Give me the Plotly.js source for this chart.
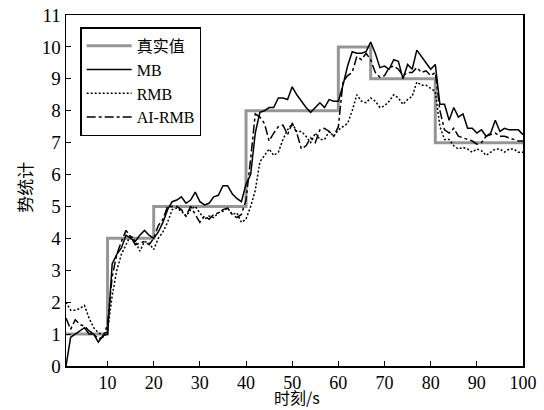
<!DOCTYPE html>
<html>
<head>
<meta charset="utf-8">
<script src="https://cdn.plot.ly/plotly-3.0.1.min.js"></script>
<style>html,body{margin:0;padding:0;background:#fff;}#chart{width:544px;height:410px;}</style>
</head>
<body>
<div id="chart"></div>
<script>
const t = Array.from({length: 100}, (_, i) => i + 1);

const trueX = [1, 10, 20, 40, 60, 67, 81, 100];
const trueY = [1, 4, 5, 8, 10, 9, 7, 7];

const mb = [0, 0.9, 1.0, 1.1, 1.2, 1.0, 1.0, 0.75, 0.95, 1.0,
  3.2, 3.5, 3.7, 4.1, 4.0, 3.9, 4.1, 4.25, 4.1, 4.0,
  4.2, 4.5, 4.9, 5.15, 5.2, 5.3, 5.1, 5.2, 5.45, 5.15,
  5.05, 5.1, 5.3, 5.35, 5.65, 5.65, 5.4, 5.25, 5.15, 5.7,
  6.0, 7.3, 7.95, 8.0, 8.1, 8.1, 8.4, 8.4, 8.35, 8.75,
  8.5, 8.3, 8.1, 7.95, 8.1, 8.25, 8.1, 8.35, 8.3, 8.3,
  8.8, 9.4, 9.85, 9.8, 9.8, 9.85, 10.15, 9.8, 9.35, 9.4,
  9.3, 9.6, 9.55, 9.0, 9.45, 9.3, 9.9, 9.7, 9.5, 9.3,
  9.45, 8.2, 8.2, 7.7, 8.1, 7.8, 7.9, 7.45, 7.45, 7.3,
  7.4, 7.2, 7.3, 7.7, 7.35, 7.45, 7.4, 7.4, 7.4, 7.25];

const rmb = [2.0, 1.75, 1.75, 1.8, 1.9, 1.5, 1.2, 1.05, 0.95, 1.1,
  2.2, 3.0, 3.5, 3.8, 4.1, 3.9, 3.6, 3.9, 3.85, 3.65,
  4.0, 4.2, 4.5, 4.9, 4.95, 4.85, 4.7, 4.9, 5.0, 4.8,
  4.6, 4.7, 4.65, 4.8, 4.85, 4.95, 4.75, 4.8, 4.5, 4.6,
  5.0, 5.5, 6.4, 6.6, 6.8, 6.6, 6.7, 7.1, 7.4, 7.6,
  7.35, 7.35, 7.2, 7.0, 7.3, 7.1, 7.1, 7.35, 7.2, 7.4,
  7.5, 7.6, 8.0, 8.5, 8.3, 8.25, 8.4, 8.3, 8.1, 8.15,
  8.3, 8.5, 8.4, 8.2, 8.35, 8.45, 8.9, 8.8, 8.8, 8.7,
  8.6, 7.5, 7.1, 7.1, 6.9, 6.8, 6.85, 6.8, 6.7, 6.8,
  6.75, 6.6, 6.7, 6.8, 6.8, 6.7, 6.8, 6.8, 6.7, 6.7];

const airmb = [1.5, 1.15, 1.45, 1.3, 1.25, 1.1, 1.0, 0.85, 0.9, 1.3,
  2.8, 3.5, 3.9, 4.25, 4.05, 3.8, 3.85, 3.9, 3.8, 4.0,
  4.4, 4.6, 5.0, 5.0, 5.0, 4.9, 4.7, 5.0, 4.75, 4.5,
  4.7, 4.6, 4.75, 4.8, 4.9, 4.95, 4.75, 4.65, 4.75, 5.2,
  6.5, 7.9, 7.8, 7.6, 7.05, 7.3, 7.5, 7.55, 7.25, 7.6,
  7.3, 6.8, 6.9, 7.15, 7.0, 7.4, 7.45, 7.35, 7.2, 7.5,
  8.9, 9.1, 9.2, 9.7, 9.6, 9.8, 9.6, 9.2, 9.05, 9.1,
  9.35, 9.4, 9.3, 9.1, 9.2, 9.2, 9.35, 9.2, 9.25, 9.1,
  9.2, 8.0, 7.4, 7.3, 7.45, 7.2, 7.15, 7.1, 7.05, 6.95,
  7.0, 7.2, 7.25, 7.3, 7.2, 7.2, 7.15, 7.1, 7.05, 7.05];

const names = ['真实值', 'MB', 'RMB', 'AI-RMB'];
const xTicks = [10, 20, 30, 40, 50, 60, 70, 80, 90, 100];
const yTicks = [0, 1, 2, 3, 4, 5, 6, 7, 8, 9, 10, 11];
const xTitle = '时刻/s';
const yTitle = '势统计';

const serif = 'Liberation Serif, Times New Roman, Noto Sans CJK SC, serif';
const cjk = 'Noto Sans CJK SC, sans-serif';

const traces = [
  {x: trueX, y: trueY, name: names[0], mode: 'lines', line: {shape: 'hv', color: 'rgb(150,150,150)', width: 3}},
  {x: t, y: mb, name: names[1], mode: 'lines', line: {color: '#000', width: 1.5}},
  {x: t, y: rmb, name: names[2], mode: 'lines', line: {color: '#000', width: 1.5, dash: '2px,2px'}},
  {x: t, y: airmb, name: names[3], mode: 'lines', line: {color: '#000', width: 1.5, dash: 'dashdot'}}
];

const layout = {
  width: 544, height: 410,
  margin: {l: 66, r: 21, t: 15, b: 44},
  paper_bgcolor: '#fff', plot_bgcolor: '#fff',
  font: {family: serif, color: '#000', size: 18},
  showlegend: true,
  legend: {
    x: 0.031, y: 0.965, xanchor: 'left', yanchor: 'top',
    bgcolor: '#fff', bordercolor: '#000', borderwidth: 1.5,
    font: {family: serif, size: 16, color: '#000'},
    itemwidth: 45, tracegroupgap: 0
  },
  xaxis: {
    range: [1, 100], tickvals: xTicks, ticktext: xTicks.map(String),
    ticks: 'inside', ticklen: 5, tickcolor: '#000', tickwidth: 1,
    showline: true, linecolor: '#000', linewidth: 1.5, mirror: true,
    showgrid: false, zeroline: false,
    tickfont: {family: serif, size: 18, color: '#000'},
    automargin: false
  },
  yaxis: {
    range: [0, 11], tickvals: yTicks, ticktext: yTicks.map(String),
    ticks: 'inside', ticklen: 5, tickcolor: '#000', tickwidth: 1,
    showline: true, linecolor: '#000', linewidth: 1.5, mirror: true,
    showgrid: false, zeroline: false,
    tickfont: {family: serif, size: 19, color: '#000'},
    automargin: false
  },
  annotations: [
    {text: xTitle, xref: 'paper', yref: 'paper', x: 0.505, y: -0.125, xanchor: 'center', yanchor: 'bottom',
     showarrow: false, borderpad: 0, font: {family: cjk, size: 16, color: '#000'}},
    {text: yTitle, xref: 'paper', yref: 'paper', x: -0.09, y: 0.51, xanchor: 'center', yanchor: 'middle',
     textangle: -90, showarrow: false, font: {family: cjk, size: 17, color: '#000'}}
  ]
};

Plotly.newPlot('chart', traces, layout, {staticPlot: true, displayModeBar: false});
</script>
</body>
</html>
